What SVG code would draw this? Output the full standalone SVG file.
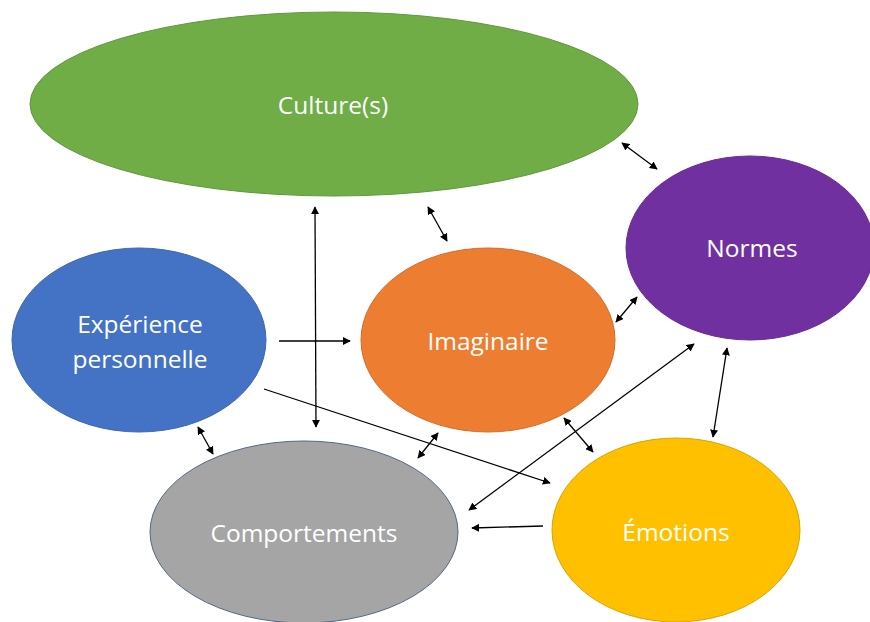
<svg xmlns="http://www.w3.org/2000/svg" width="870" height="622" viewBox="0 0 870 622">
<defs>
<marker id="ah" viewBox="0 0 10 10" refX="9" refY="5" markerWidth="8" markerHeight="8" markerUnits="userSpaceOnUse" orient="auto-start-reverse">
<path d="M0,0 L10,5 L0,10 z" fill="#000"/>
</marker>
<style>
.lbl{font-family:"Open Sans","Noto Sans",sans-serif;font-size:24.5px;fill:#ffffff;text-anchor:middle;dominant-baseline:central}
.c{stroke:#000;stroke-width:1.3;fill:none}
.both{marker-start:url(#ah);marker-end:url(#ah)}
.one{marker-end:url(#ah)}
</style>
</defs>
<rect width="870" height="622" fill="#ffffff"/>
<g id="culture">
<ellipse cx="334" cy="104" rx="304" ry="92" fill="#70AD47" stroke="#5f9a3a" stroke-width="1"/>
<text class="lbl" x="333" y="104">Culture(s)</text>
</g>
<g id="normes">
<ellipse cx="750" cy="248" rx="124" ry="92" fill="#7030A0" stroke="#6a2d98" stroke-width="1"/>
<text class="lbl" x="752" y="247">Normes</text>
</g>
<g id="experience">
<ellipse cx="139" cy="340" rx="127" ry="92" fill="#4472C4" stroke="#3b66b0" stroke-width="1"/>
<text class="lbl" x="140" y="323">Expérience</text>
<text class="lbl" x="140" y="358">personnelle</text>
</g>
<g id="imaginaire">
<ellipse cx="488" cy="340" rx="127" ry="92" fill="#ED7D31" stroke="#d56d28" stroke-width="1"/>
<text class="lbl" x="488" y="340">Imaginaire</text>
</g>
<g id="comportements">
<ellipse cx="304" cy="532" rx="154" ry="91" fill="#A5A5A5" stroke="#4f6a8a" stroke-width="1"/>
<text class="lbl" x="304" y="532">Comportements</text>
</g>
<g id="emotions">
<ellipse cx="676" cy="530" rx="124" ry="92" fill="#FFC000" stroke="#d9a400" stroke-width="1"/>
<text class="lbl" x="676" y="531">Émotions</text>
</g>
<g id="connectors">
<line class="c both" x1="622" y1="143" x2="657" y2="169"/>
<line class="c both" x1="428" y1="207" x2="447" y2="241"/>
<line class="c both" x1="315" y1="207" x2="316" y2="427"/>
<line class="c one" x1="279" y1="341" x2="350" y2="341"/>
<line class="c one" x1="264" y1="389" x2="550" y2="483"/>
<line class="c both" x1="198" y1="427" x2="213" y2="454"/>
<line class="c both" x1="438" y1="433" x2="418" y2="458"/>
<line class="c both" x1="637" y1="297" x2="616" y2="322"/>
<line class="c both" x1="694" y1="344" x2="469" y2="510"/>
<line class="c both" x1="727" y1="348" x2="713" y2="437"/>
<line class="c both" x1="564" y1="418" x2="593" y2="452"/>
<line class="c one" x1="543" y1="526" x2="472" y2="528"/>
</g>
</svg>
